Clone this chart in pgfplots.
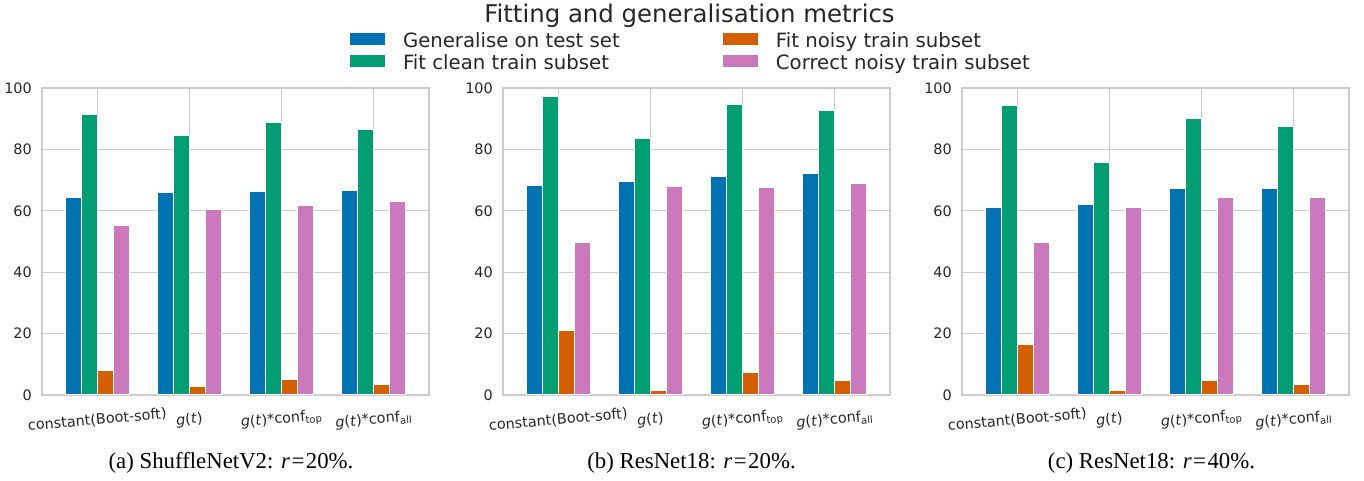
\documentclass[border=0pt]{standalone}
\usepackage{fontspec}
\setmainfont{DejaVu Sans}
\newfontfamily\capfont{Liberation Serif}
\usepackage{pgfplots}
\usepackage{pgfplotstable}
\pgfplotsset{compat=1.18}

\definecolor{cbblue}{HTML}{0173B2}
\definecolor{cbgreen}{HTML}{029E73}
\definecolor{cborange}{HTML}{D55E00}
\definecolor{cbpink}{HTML}{CC78BC}
\definecolor{gridgray}{HTML}{CCCCCC}
\definecolor{txt}{HTML}{262626}

% columns: generalise, fit clean, fit noisy, correct noisy
\pgfplotstableread{
x gen clean noisy correct
0 64.3 91.4 7.9 55.3
1 66.0 84.6 2.8 60.5
2 66.3 88.8 5.0 61.7
3 66.7 86.5 3.3 62.9
}\shuffle
\pgfplotstableread{
x gen clean noisy correct
0 68.4 97.4 20.9 49.6
1 69.6 83.5 1.6 68.0
2 71.3 94.6 7.5 67.6
3 72.3 92.6 4.8 68.8
}\resA
\pgfplotstableread{
x gen clean noisy correct
0 61.0 94.3 16.6 49.7
1 62.2 75.9 1.6 61.0
2 67.2 90.0 4.9 64.3
3 67.3 87.5 3.5 64.5
}\resB

\pgfplotsset{
  panel/.style={
    scale only axis, width=387pt, height=307pt, anchor=south west,
    ybar=0pt, bar width=0.1737,
    xmin=-0.6, xmax=3.6, ymin=0, ymax=100,
    xtick={0,1,2,3},
    xticklabels={constant(Boot-soft), \textit{g}(\textit{t}),
      \textit{g}(\textit{t})*conf\textsubscript{top},
      \textit{g}(\textit{t})*conf\textsubscript{all}},
    ytick={0,20,40,60,80,100},
    major tick length=0pt,
    xmajorgrids, ymajorgrids,
    grid style={gridgray, line width=1pt},
    axis line style={gridgray, line width=1.2pt},
    tick label style={font=\fontsize{14.4}{17}\selectfont, text=txt},
    /pgf/number format/assume math mode=true,
    yticklabel style={inner sep=0pt, xshift=-10pt},
    xticklabel style={anchor=center, yshift=-25pt, rotate=5},
  },
  cbbar/.style={fill=#1, draw=white, line width=1.2pt,
    legend image code/.code={\fill[#1] (0pt,-3.5pt) rectangle (34pt,7.5pt);}},
}

\begin{document}
\begin{tikzpicture}
\useasboundingbox (0pt,0pt) rectangle (1364pt,481pt);

\begin{axis}[panel, at={(42pt,86pt)}]
\addplot[cbbar=cbblue] table[x=x,y=gen]{\shuffle};
\addplot[cbbar=cbgreen] table[x=x,y=clean]{\shuffle};
\addplot[cbbar=cborange] table[x=x,y=noisy]{\shuffle};
\addplot[cbbar=cbpink] table[x=x,y=correct]{\shuffle};
\end{axis}

\begin{axis}[panel, at={(503pt,86pt)},
  legend columns=2, transpose legend, legend cell align=left,
  legend style={at={(-0.3964,1.1166)}, anchor=west, draw=none, fill=none,
    inner sep=0pt, font=\fontsize{19.7}{22}\selectfont, text=txt,
    row sep=5.4pt, nodes={inner sep=0pt},
    /tikz/every odd column/.append style={column sep=18pt},
    /tikz/every even column/.append style={column sep=103pt}}]
\addplot[cbbar=cbblue] table[x=x,y=gen]{\resA};
\addplot[cbbar=cbgreen] table[x=x,y=clean]{\resA};
\addplot[cbbar=cborange] table[x=x,y=noisy]{\resA};
\addplot[cbbar=cbpink] table[x=x,y=correct]{\resA};
\legend{Generalise on test set\vphantom{Gy}, Fit clean train subset\vphantom{Gy},
  Fit noisy train subset\vphantom{Gy}, Correct noisy train subset\vphantom{Gy}}
\end{axis}

\begin{axis}[panel, at={(962pt,86pt)}]
\addplot[cbbar=cbblue] table[x=x,y=gen]{\resB};
\addplot[cbbar=cbgreen] table[x=x,y=clean]{\resB};
\addplot[cbbar=cborange] table[x=x,y=noisy]{\resB};
\addplot[cbbar=cbpink] table[x=x,y=correct]{\resB};
\end{axis}

\node[anchor=base, text=txt, font=\fontsize{24.4}{28}\selectfont]
  at (689.5pt,458pt) {Fitting and generalisation metrics};

\begin{scope}[every node/.style={anchor=base, font=\capfont\fontsize{22.8}{26}\selectfont}]
\node at (231pt,12pt) {(a) ShuffleNetV2: \textit{r}\kern1.5pt=\kern1.5pt20\%.};
\node at (691.5pt,12pt) {(b) ResNet18: \textit{r}\kern1.5pt=\kern1.5pt20\%.};
\node at (1151.5pt,12pt) {(c) ResNet18: \textit{r}\kern1.5pt=\kern1.5pt40\%.};
\end{scope}
\end{tikzpicture}
\end{document}
